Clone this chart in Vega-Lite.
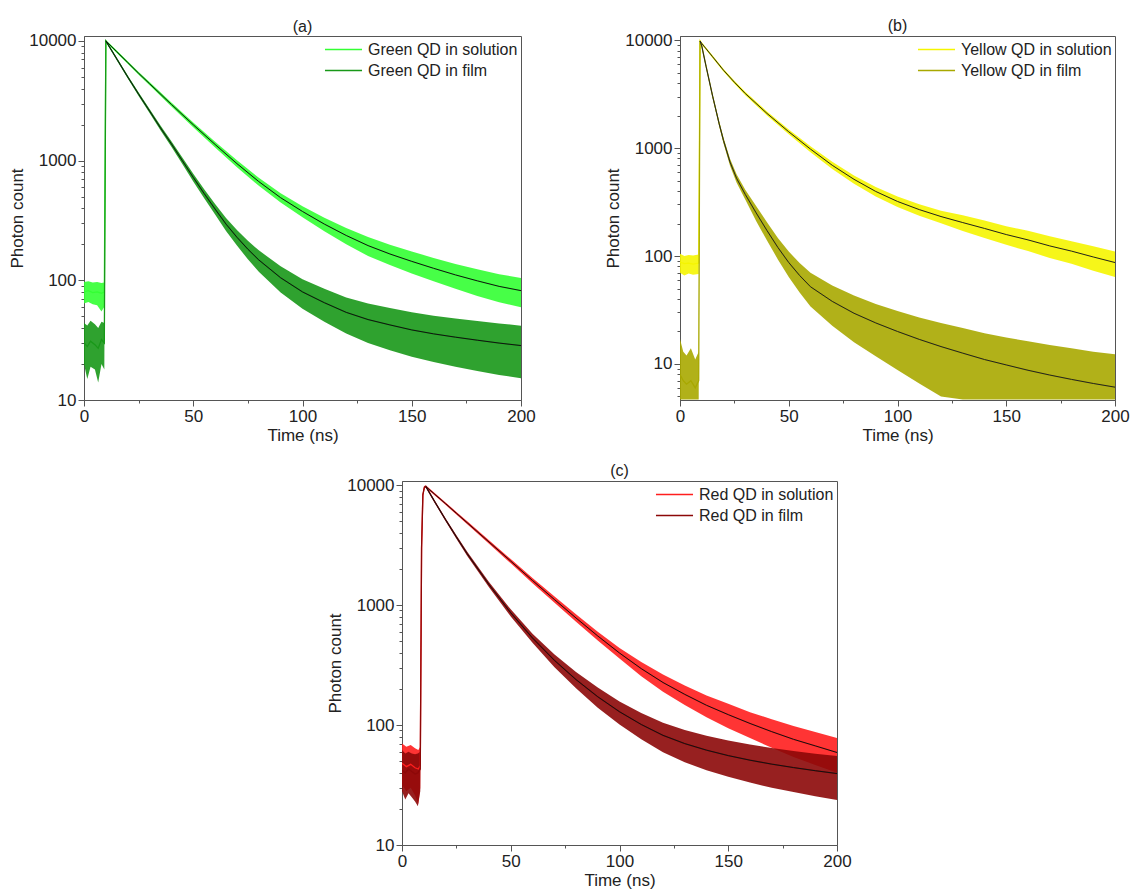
{
  "$schema": "https://vega.github.io/schema/vega-lite/v6.json",
  "padding": {"left": 8, "top": 17, "right": 0, "bottom": 0},
  "background": "white",
  "config": {
    "font": "Liberation Sans",
    "view": {"stroke": "#555", "strokeWidth": 1},
    "axis": {"labelFont": "Liberation Sans", "titleFont": "Liberation Sans", "labelFontSize": 17, "titleFontSize": 17, "titleFontWeight": "normal", "labelColor": "#222", "titleColor": "#222", "domainColor": "#555", "tickColor": "#555", "labelPadding": 2, "titlePadding": 3, "grid": false, "labelOverlap": false, "labelFlush": false},
    "axisY": {"titlePadding": 2},
    "title": {"font": "Liberation Sans", "fontSize": 16, "fontWeight": "normal", "anchor": "middle", "offset": -3, "color": "#222"},
    "legend": {"labelFont": "Liberation Sans", "labelFontSize": 16, "labelColor": "#222", "symbolType": "M-1.9,0H1.9", "symbolSize": 380, "symbolStrokeWidth": 1.5, "orient": "top-right", "offset": 3, "padding": 0, "rowPadding": 2, "labelOffset": 14}
  },
  "datasets": {
    "a": [
      {"s":"Green QD in solution","t":0,"mid":80,"lo":64,"hi":97},
      {"s":"Green QD in solution","t":2,"mid":82,"lo":66,"hi":98},
      {"s":"Green QD in solution","t":4,"mid":79,"lo":63,"hi":96},
      {"s":"Green QD in solution","t":6,"mid":80,"lo":62,"hi":97},
      {"s":"Green QD in solution","t":8,"mid":78,"lo":55,"hi":95},
      {"s":"Green QD in solution","t":9.3,"mid":80,"lo":60,"hi":96},
      {"s":"Green QD in solution","t":10,"mid":10000,"lo":9800,"hi":10200,"fit":10000},
      {"s":"Green QD in solution","t":15,"mid":8130,"lo":7950,"hi":8310,"fit":8130},
      {"s":"Green QD in solution","t":20,"mid":6610,"lo":6450,"hi":6770,"fit":6610},
      {"s":"Green QD in solution","t":25,"mid":5370,"lo":5225,"hi":5515,"fit":5370},
      {"s":"Green QD in solution","t":30,"mid":4395,"lo":4260,"hi":4530,"fit":4395},
      {"s":"Green QD in solution","t":40,"mid":2950,"lo":2840,"hi":3060,"fit":2950},
      {"s":"Green QD in solution","t":50,"mid":1995,"lo":1905,"hi":2085,"fit":1995},
      {"s":"Green QD in solution","t":60,"mid":1365,"lo":1290,"hi":1440,"fit":1365},
      {"s":"Green QD in solution","t":70,"mid":944,"lo":882,"hi":1006,"fit":944},
      {"s":"Green QD in solution","t":80,"mid":668,"lo":616,"hi":720,"fit":668},
      {"s":"Green QD in solution","t":90,"mid":490,"lo":446,"hi":534,"fit":490},
      {"s":"Green QD in solution","t":100,"mid":376,"lo":337,"hi":415,"fit":376},
      {"s":"Green QD in solution","t":110,"mid":295,"lo":257,"hi":333,"fit":295},
      {"s":"Green QD in solution","t":120,"mid":237,"lo":200,"hi":274,"fit":237},
      {"s":"Green QD in solution","t":130,"mid":195,"lo":160,"hi":230,"fit":195},
      {"s":"Green QD in solution","t":140,"mid":166,"lo":134,"hi":198,"fit":166},
      {"s":"Green QD in solution","t":150,"mid":144,"lo":114,"hi":174,"fit":144},
      {"s":"Green QD in solution","t":160,"mid":126,"lo":98,"hi":154,"fit":126},
      {"s":"Green QD in solution","t":170,"mid":111,"lo":85,"hi":137,"fit":111},
      {"s":"Green QD in solution","t":180,"mid":99,"lo":74,"hi":124,"fit":99},
      {"s":"Green QD in solution","t":190,"mid":89,"lo":65.5,"hi":112.5,"fit":89},
      {"s":"Green QD in solution","t":200,"mid":82,"lo":59.5,"hi":104.5,"fit":82},
      {"s":"Green QD in film","t":0,"mid":30,"lo":20,"hi":44},
      {"s":"Green QD in film","t":1.5,"mid":28,"lo":15,"hi":42},
      {"s":"Green QD in film","t":3,"mid":31,"lo":19,"hi":46},
      {"s":"Green QD in film","t":5,"mid":29,"lo":18,"hi":43},
      {"s":"Green QD in film","t":6.5,"mid":27,"lo":14,"hi":40},
      {"s":"Green QD in film","t":8,"mid":32,"lo":20,"hi":45},
      {"s":"Green QD in film","t":9.3,"mid":30,"lo":18,"hi":44},
      {"s":"Green QD in film","t":10,"mid":10000,"lo":9800,"hi":10200,"fit":10000},
      {"s":"Green QD in film","t":15,"mid":7080,"lo":6910,"hi":7250,"fit":7080},
      {"s":"Green QD in film","t":20,"mid":5010,"lo":4870,"hi":5150,"fit":5010},
      {"s":"Green QD in film","t":25,"mid":3590,"lo":3470,"hi":3710,"fit":3590},
      {"s":"Green QD in film","t":30,"mid":2600,"lo":2500,"hi":2700,"fit":2600},
      {"s":"Green QD in film","t":35,"mid":1880,"lo":1793,"hi":1967,"fit":1880},
      {"s":"Green QD in film","t":40,"mid":1380,"lo":1305,"hi":1455,"fit":1380},
      {"s":"Green QD in film","t":45,"mid":1000,"lo":937,"hi":1063,"fit":1000},
      {"s":"Green QD in film","t":50,"mid":724,"lo":670,"hi":778,"fit":724},
      {"s":"Green QD in film","t":55,"mid":531,"lo":485,"hi":577,"fit":531},
      {"s":"Green QD in film","t":60,"mid":394,"lo":354,"hi":434,"fit":394},
      {"s":"Green QD in film","t":65,"mid":295,"lo":258,"hi":332,"fit":295},
      {"s":"Green QD in film","t":70,"mid":229,"lo":195,"hi":263,"fit":229},
      {"s":"Green QD in film","t":75,"mid":182,"lo":150,"hi":214,"fit":182},
      {"s":"Green QD in film","t":80,"mid":148,"lo":118,"hi":178,"fit":148},
      {"s":"Green QD in film","t":90,"mid":105,"lo":79,"hi":131,"fit":105},
      {"s":"Green QD in film","t":100,"mid":80,"lo":58,"hi":102,"fit":80},
      {"s":"Green QD in film","t":110,"mid":65,"lo":45,"hi":85,"fit":65},
      {"s":"Green QD in film","t":120,"mid":54,"lo":36,"hi":72,"fit":54},
      {"s":"Green QD in film","t":130,"mid":47,"lo":30,"hi":64,"fit":47},
      {"s":"Green QD in film","t":140,"mid":42.4,"lo":26,"hi":58.8,"fit":42.4},
      {"s":"Green QD in film","t":150,"mid":38.5,"lo":23,"hi":54,"fit":38.5},
      {"s":"Green QD in film","t":160,"mid":35.7,"lo":20.8,"hi":50.6,"fit":35.7},
      {"s":"Green QD in film","t":170,"mid":33.5,"lo":19,"hi":48,"fit":33.5},
      {"s":"Green QD in film","t":180,"mid":31.6,"lo":17.5,"hi":45.7,"fit":31.6},
      {"s":"Green QD in film","t":190,"mid":29.9,"lo":16.2,"hi":43.6,"fit":29.9},
      {"s":"Green QD in film","t":200,"mid":28.5,"lo":15.2,"hi":41.8,"fit":28.5}
    ],
    "b": [
      {"s":"Yellow QD in solution","t":0,"mid":88,"lo":70,"hi":105},
      {"s":"Yellow QD in solution","t":2,"mid":85,"lo":66,"hi":100},
      {"s":"Yellow QD in solution","t":4,"mid":86,"lo":69,"hi":102},
      {"s":"Yellow QD in solution","t":6,"mid":84,"lo":67,"hi":101},
      {"s":"Yellow QD in solution","t":8.6,"mid":86,"lo":68,"hi":103},
      {"s":"Yellow QD in solution","t":9.2,"mid":9800,"lo":9600,"hi":10000,"fit":9800},
      {"s":"Yellow QD in solution","t":10,"mid":9300,"lo":9110,"hi":9490,"fit":9300},
      {"s":"Yellow QD in solution","t":15,"mid":7000,"lo":6830,"hi":7170,"fit":7000},
      {"s":"Yellow QD in solution","t":20,"mid":5250,"lo":5105,"hi":5395,"fit":5250},
      {"s":"Yellow QD in solution","t":25,"mid":4070,"lo":3942,"hi":4198,"fit":4070},
      {"s":"Yellow QD in solution","t":30,"mid":3200,"lo":3087,"hi":3313,"fit":3200},
      {"s":"Yellow QD in solution","t":40,"mid":2090,"lo":1999,"hi":2181,"fit":2090},
      {"s":"Yellow QD in solution","t":50,"mid":1413,"lo":1338,"hi":1488,"fit":1413},
      {"s":"Yellow QD in solution","t":60,"mid":977,"lo":915,"hi":1039,"fit":977},
      {"s":"Yellow QD in solution","t":70,"mid":692,"lo":639,"hi":745,"fit":692},
      {"s":"Yellow QD in solution","t":80,"mid":513,"lo":468,"hi":558,"fit":513},
      {"s":"Yellow QD in solution","t":90,"mid":396,"lo":356,"hi":436,"fit":396},
      {"s":"Yellow QD in solution","t":100,"mid":320,"lo":284,"hi":356,"fit":320},
      {"s":"Yellow QD in solution","t":110,"mid":269,"lo":236,"hi":302,"fit":269},
      {"s":"Yellow QD in solution","t":120,"mid":232,"lo":201,"hi":263,"fit":232},
      {"s":"Yellow QD in solution","t":130,"mid":204,"lo":170,"hi":238,"fit":204},
      {"s":"Yellow QD in solution","t":140,"mid":180,"lo":147,"hi":213,"fit":180},
      {"s":"Yellow QD in solution","t":150,"mid":158,"lo":127,"hi":189,"fit":158},
      {"s":"Yellow QD in solution","t":160,"mid":141,"lo":111,"hi":171,"fit":141},
      {"s":"Yellow QD in solution","t":170,"mid":124,"lo":96,"hi":152,"fit":124},
      {"s":"Yellow QD in solution","t":180,"mid":111,"lo":85,"hi":137,"fit":111},
      {"s":"Yellow QD in solution","t":190,"mid":98,"lo":73,"hi":123,"fit":98},
      {"s":"Yellow QD in solution","t":200,"mid":87,"lo":64,"hi":110,"fit":87},
      {"s":"Yellow QD in film","t":0,"mid":8,"lo":4.7,"hi":17},
      {"s":"Yellow QD in film","t":1.5,"mid":7,"lo":4.7,"hi":13},
      {"s":"Yellow QD in film","t":3,"mid":6.5,"lo":4.7,"hi":12},
      {"s":"Yellow QD in film","t":5,"mid":7,"lo":4.7,"hi":14},
      {"s":"Yellow QD in film","t":7,"mid":6,"lo":4.7,"hi":11},
      {"s":"Yellow QD in film","t":8.6,"mid":7,"lo":4.7,"hi":13},
      {"s":"Yellow QD in film","t":9.2,"mid":9800,"lo":9600,"hi":10000,"fit":9800},
      {"s":"Yellow QD in film","t":10,"mid":8810,"lo":8620,"hi":9000,"fit":8810},
      {"s":"Yellow QD in film","t":12,"mid":5690,"lo":5540,"hi":5840,"fit":5690},
      {"s":"Yellow QD in film","t":15,"mid":3020,"lo":2910,"hi":3130,"fit":3020},
      {"s":"Yellow QD in film","t":18,"mid":1680,"lo":1598,"hi":1762,"fit":1680},
      {"s":"Yellow QD in film","t":20,"mid":1175,"lo":1106,"hi":1244,"fit":1175},
      {"s":"Yellow QD in film","t":23,"mid":741,"lo":687,"hi":795,"fit":741},
      {"s":"Yellow QD in film","t":26,"mid":525,"lo":479,"hi":571,"fit":525},
      {"s":"Yellow QD in film","t":30,"mid":372,"lo":333,"hi":411,"fit":372},
      {"s":"Yellow QD in film","t":35,"mid":251,"lo":211,"hi":291,"fit":251},
      {"s":"Yellow QD in film","t":40,"mid":172,"lo":139,"hi":205,"fit":172},
      {"s":"Yellow QD in film","t":45,"mid":120,"lo":93,"hi":147,"fit":120},
      {"s":"Yellow QD in film","t":50,"mid":87,"lo":64,"hi":110,"fit":87},
      {"s":"Yellow QD in film","t":55,"mid":66,"lo":46,"hi":86,"fit":66},
      {"s":"Yellow QD in film","t":60,"mid":51.9,"lo":34,"hi":70,"fit":51.9},
      {"s":"Yellow QD in film","t":70,"mid":38,"lo":22.6,"hi":53.4,"fit":38},
      {"s":"Yellow QD in film","t":80,"mid":29.5,"lo":15.9,"hi":43,"fit":29.5},
      {"s":"Yellow QD in film","t":90,"mid":24,"lo":11.8,"hi":36,"fit":24},
      {"s":"Yellow QD in film","t":100,"mid":20,"lo":8.8,"hi":31,"fit":20},
      {"s":"Yellow QD in film","t":110,"mid":16.9,"lo":6.6,"hi":27,"fit":16.9},
      {"s":"Yellow QD in film","t":120,"mid":14.5,"lo":5,"hi":24,"fit":14.5},
      {"s":"Yellow QD in film","t":130,"mid":12.6,"lo":4.7,"hi":21.5,"fit":12.6},
      {"s":"Yellow QD in film","t":140,"mid":11,"lo":4.7,"hi":19.3,"fit":11},
      {"s":"Yellow QD in film","t":150,"mid":9.8,"lo":4.7,"hi":17.6,"fit":9.8},
      {"s":"Yellow QD in film","t":160,"mid":8.75,"lo":4.7,"hi":16.2,"fit":8.75},
      {"s":"Yellow QD in film","t":170,"mid":7.9,"lo":4.7,"hi":15,"fit":7.9},
      {"s":"Yellow QD in film","t":180,"mid":7.2,"lo":4.7,"hi":14,"fit":7.2},
      {"s":"Yellow QD in film","t":190,"mid":6.6,"lo":4.7,"hi":13,"fit":6.6},
      {"s":"Yellow QD in film","t":200,"mid":6.1,"lo":4.7,"hi":12.3,"fit":6.1}
    ],
    "c": [
      {"s":"Red QD in solution","t":0,"mid":48,"lo":32,"hi":70},
      {"s":"Red QD in solution","t":2,"mid":45,"lo":28,"hi":66},
      {"s":"Red QD in solution","t":4,"mid":47,"lo":30,"hi":68},
      {"s":"Red QD in solution","t":6,"mid":44,"lo":26,"hi":64},
      {"s":"Red QD in solution","t":7.5,"mid":43,"lo":22,"hi":62},
      {"s":"Red QD in solution","t":8.4,"mid":46,"lo":30,"hi":66},
      {"s":"Red QD in solution","t":9,"mid":3000,"lo":2900,"hi":3100},
      {"s":"Red QD in solution","t":9.6,"mid":8300,"lo":8120,"hi":8480},
      {"s":"Red QD in solution","t":10.3,"mid":9600,"lo":9400,"hi":9800},
      {"s":"Red QD in solution","t":11,"mid":9700,"lo":9500,"hi":9900,"fit":9700},
      {"s":"Red QD in solution","t":15,"mid":8390,"lo":8210,"hi":8570,"fit":8390},
      {"s":"Red QD in solution","t":20,"mid":7000,"lo":6835,"hi":7165,"fit":7000},
      {"s":"Red QD in solution","t":25,"mid":5820,"lo":5670,"hi":5970,"fit":5820},
      {"s":"Red QD in solution","t":30,"mid":4840,"lo":4700,"hi":4980,"fit":4840},
      {"s":"Red QD in solution","t":40,"mid":3350,"lo":3235,"hi":3465,"fit":3350},
      {"s":"Red QD in solution","t":50,"mid":2320,"lo":2224,"hi":2416,"fit":2320},
      {"s":"Red QD in solution","t":60,"mid":1600,"lo":1520,"hi":1680,"fit":1600},
      {"s":"Red QD in solution","t":70,"mid":1114,"lo":1047,"hi":1181,"fit":1114},
      {"s":"Red QD in solution","t":80,"mid":780,"lo":724,"hi":836,"fit":780},
      {"s":"Red QD in solution","t":90,"mid":552,"lo":505,"hi":599,"fit":552},
      {"s":"Red QD in solution","t":100,"mid":398,"lo":358,"hi":438,"fit":398},
      {"s":"Red QD in solution","t":110,"mid":295,"lo":255,"hi":335,"fit":295},
      {"s":"Red QD in solution","t":120,"mid":226,"lo":189,"hi":263,"fit":226},
      {"s":"Red QD in solution","t":130,"mid":180,"lo":147,"hi":213,"fit":180},
      {"s":"Red QD in solution","t":140,"mid":146,"lo":116,"hi":176,"fit":146},
      {"s":"Red QD in solution","t":150,"mid":122,"lo":94,"hi":150,"fit":122},
      {"s":"Red QD in solution","t":160,"mid":103,"lo":78,"hi":128,"fit":103},
      {"s":"Red QD in solution","t":170,"mid":88,"lo":64.5,"hi":111.5,"fit":88},
      {"s":"Red QD in solution","t":180,"mid":76,"lo":54,"hi":98,"fit":76},
      {"s":"Red QD in solution","t":190,"mid":67,"lo":46.5,"hi":87.5,"fit":67},
      {"s":"Red QD in solution","t":200,"mid":59,"lo":40,"hi":78,"fit":59},
      {"s":"Red QD in film","t":0,"mid":42,"lo":28,"hi":62},
      {"s":"Red QD in film","t":1.5,"mid":40,"lo":24,"hi":58},
      {"s":"Red QD in film","t":3,"mid":43,"lo":27,"hi":60},
      {"s":"Red QD in film","t":4.5,"mid":41,"lo":25,"hi":58},
      {"s":"Red QD in film","t":6,"mid":39,"lo":23,"hi":57},
      {"s":"Red QD in film","t":7.3,"mid":40,"lo":21,"hi":58},
      {"s":"Red QD in film","t":8.4,"mid":43,"lo":28,"hi":60},
      {"s":"Red QD in film","t":9,"mid":3000,"lo":2900,"hi":3100},
      {"s":"Red QD in film","t":9.6,"mid":8300,"lo":8120,"hi":8480},
      {"s":"Red QD in film","t":10.3,"mid":9600,"lo":9400,"hi":9800},
      {"s":"Red QD in film","t":11,"mid":9700,"lo":9500,"hi":9900,"fit":9700},
      {"s":"Red QD in film","t":15,"mid":7280,"lo":7110,"hi":7450,"fit":7280},
      {"s":"Red QD in film","t":20,"mid":5150,"lo":5005,"hi":5295,"fit":5150},
      {"s":"Red QD in film","t":25,"mid":3690,"lo":3568,"hi":3812,"fit":3690},
      {"s":"Red QD in film","t":30,"mid":2670,"lo":2567,"hi":2773,"fit":2670},
      {"s":"Red QD in film","t":40,"mid":1480,"lo":1403,"hi":1557,"fit":1480},
      {"s":"Red QD in film","t":50,"mid":861,"lo":802,"hi":920,"fit":861},
      {"s":"Red QD in film","t":60,"mid":531,"lo":485,"hi":577,"fit":531},
      {"s":"Red QD in film","t":70,"mid":347,"lo":305,"hi":389,"fit":347},
      {"s":"Red QD in film","t":80,"mid":239,"lo":202,"hi":276,"fit":239},
      {"s":"Red QD in film","t":90,"mid":172,"lo":139,"hi":205,"fit":172},
      {"s":"Red QD in film","t":100,"mid":129,"lo":101,"hi":157,"fit":129},
      {"s":"Red QD in film","t":110,"mid":101,"lo":76,"hi":126,"fit":101},
      {"s":"Red QD in film","t":120,"mid":82,"lo":59.4,"hi":104.6,"fit":82},
      {"s":"Red QD in film","t":130,"mid":70,"lo":49,"hi":91,"fit":70},
      {"s":"Red QD in film","t":140,"mid":61.7,"lo":42,"hi":81.3,"fit":61.7},
      {"s":"Red QD in film","t":150,"mid":55.6,"lo":37,"hi":74.2,"fit":55.6},
      {"s":"Red QD in film","t":160,"mid":50.9,"lo":33.1,"hi":68.7,"fit":50.9},
      {"s":"Red QD in film","t":170,"mid":47.2,"lo":30,"hi":64.4,"fit":47.2},
      {"s":"Red QD in film","t":180,"mid":44.2,"lo":27.6,"hi":60.8,"fit":44.2},
      {"s":"Red QD in film","t":190,"mid":41.6,"lo":25.5,"hi":57.7,"fit":41.6},
      {"s":"Red QD in film","t":200,"mid":39.4,"lo":23.7,"hi":55.1,"fit":39.4}
    ]
  },
  "resolve": {"scale": {"stroke": "independent", "y": "independent", "x": "independent"}, "legend": {"stroke": "independent"}},
  "spacing": 18,
  "vconcat": [
    {
      "hconcat": [
        {
          "width": 437, "height": 364,
          "title": {"text": "(a)"},
          "data": {"name": "a"},
          "encoding": {"x": {"field": "t", "type": "quantitative", "scale": {"domain": [0, 200], "nice": false}, "axis": {"title": "Time (ns)", "values": [0,25,50,75,100,125,150,175,200], "labelExpr": "datum.value % 50 == 0 ? datum.label : ''", "tickSize": {"condition": {"test": "datum.value % 50 == 0", "value": 6}, "value": 3}}}},
          "layer": [
            {"transform": [{"filter": "datum.s == 'Green QD in solution'"}], "mark": {"type": "area", "clip": true, "color": "#33ff33", "opacity": 0.9}, "encoding": {"y": {"field": "lo", "type": "quantitative", "title": "Photon count", "scale": {"type": "log", "domain": [10, 11000], "nice": false}, "axis": {"values": [10,20,30,40,50,60,70,80,90,100,200,300,400,500,600,700,800,900,1000,2000,3000,4000,5000,6000,7000,8000,9000,10000], "labelExpr": "(datum.value==10||datum.value==100||datum.value==1000||datum.value==10000) ? format(datum.value,'d') : ''", "tickSize": {"condition": {"test": "datum.value==10||datum.value==100||datum.value==1000||datum.value==10000", "value": 6}, "value": 3}}}, "y2": {"field": "hi"}}},
            {"transform": [{"filter": "datum.s == 'Green QD in film'"}], "mark": {"type": "area", "clip": true, "color": "#189818", "opacity": 0.9}, "encoding": {"y": {"field": "lo", "type": "quantitative", "title": "Photon count"}, "y2": {"field": "hi"}}},
            {"mark": {"type": "line", "clip": true, "strokeWidth": 1.3}, "encoding": {"y": {"field": "mid", "type": "quantitative", "title": "Photon count"}, "stroke": {"field": "s", "type": "nominal", "sort": null, "scale": {"domain": ["Green QD in solution", "Green QD in film"], "range": ["#33ff33", "#189818"]}, "legend": {"title": null}}}},
            {"mark": {"type": "line", "clip": true, "color": "#111", "strokeWidth": 1}, "encoding": {"y": {"field": "fit", "type": "quantitative", "title": "Photon count"}, "detail": {"field": "s"}}}
          ]
        },
        {
          "width": 435, "height": 364,
          "title": {"text": "(b)"},
          "data": {"name": "b"},
          "encoding": {"x": {"field": "t", "type": "quantitative", "scale": {"domain": [0, 200], "nice": false}, "axis": {"title": "Time (ns)", "values": [0,25,50,75,100,125,150,175,200], "labelExpr": "datum.value % 50 == 0 ? datum.label : ''", "tickSize": {"condition": {"test": "datum.value % 50 == 0", "value": 6}, "value": 3}}}},
          "layer": [
            {"transform": [{"filter": "datum.s == 'Yellow QD in solution'"}], "mark": {"type": "area", "clip": true, "color": "#f5f500", "opacity": 0.9}, "encoding": {"y": {"field": "lo", "type": "quantitative", "title": "Photon count", "scale": {"type": "log", "domain": [4.64, 10900], "nice": false}, "axis": {"values": [5,6,7,8,9,10,20,30,40,50,60,70,80,90,100,200,300,400,500,600,700,800,900,1000,2000,3000,4000,5000,6000,7000,8000,9000,10000], "labelExpr": "(datum.value==10||datum.value==100||datum.value==1000||datum.value==10000) ? format(datum.value,'d') : ''", "tickSize": {"condition": {"test": "datum.value==10||datum.value==100||datum.value==1000||datum.value==10000", "value": 6}, "value": 3}}}, "y2": {"field": "hi"}}},
            {"transform": [{"filter": "datum.s == 'Yellow QD in film'"}], "mark": {"type": "area", "clip": true, "color": "#a8a800", "opacity": 0.9}, "encoding": {"y": {"field": "lo", "type": "quantitative", "title": "Photon count"}, "y2": {"field": "hi"}}},
            {"mark": {"type": "line", "clip": true, "strokeWidth": 1.3}, "encoding": {"y": {"field": "mid", "type": "quantitative", "title": "Photon count"}, "stroke": {"field": "s", "type": "nominal", "sort": null, "scale": {"domain": ["Yellow QD in solution", "Yellow QD in film"], "range": ["#f5f500", "#a8a800"]}, "legend": {"title": null}}}},
            {"mark": {"type": "line", "clip": true, "color": "#222", "strokeWidth": 1}, "encoding": {"y": {"field": "fit", "type": "quantitative", "title": "Photon count"}, "detail": {"field": "s"}}}
          ]
        }
      ],
      "spacing": 68,
      "resolve": {"scale": {"stroke": "independent", "y": "independent", "x": "independent"}, "legend": {"stroke": "independent"}}
    },
    {
      "hconcat": [
        {"width": 242, "height": 10, "view": {"stroke": null}, "data": {"values": [{}]}, "mark": {"type": "text", "text": ""}},
        {
          "width": 435, "height": 364,
          "title": {"text": "(c)"},
          "data": {"name": "c"},
          "encoding": {"x": {"field": "t", "type": "quantitative", "scale": {"domain": [0, 200], "nice": false}, "axis": {"title": "Time (ns)", "values": [0,25,50,75,100,125,150,175,200], "labelExpr": "datum.value % 50 == 0 ? datum.label : ''", "tickSize": {"condition": {"test": "datum.value % 50 == 0", "value": 6}, "value": 3}}}},
          "layer": [
            {"transform": [{"filter": "datum.s == 'Red QD in solution'"}], "mark": {"type": "area", "clip": true, "color": "#ff1e1e", "opacity": 0.9}, "encoding": {"y": {"field": "lo", "type": "quantitative", "title": "Photon count", "scale": {"type": "log", "domain": [10, 10800], "nice": false}, "axis": {"values": [10,20,30,40,50,60,70,80,90,100,200,300,400,500,600,700,800,900,1000,2000,3000,4000,5000,6000,7000,8000,9000,10000], "labelExpr": "(datum.value==10||datum.value==100||datum.value==1000||datum.value==10000) ? format(datum.value,'d') : ''", "tickSize": {"condition": {"test": "datum.value==10||datum.value==100||datum.value==1000||datum.value==10000", "value": 6}, "value": 3}}}, "y2": {"field": "hi"}}},
            {"transform": [{"filter": "datum.s == 'Red QD in film'"}], "mark": {"type": "area", "clip": true, "color": "#8c0808", "opacity": 0.9}, "encoding": {"y": {"field": "lo", "type": "quantitative", "title": "Photon count"}, "y2": {"field": "hi"}}},
            {"mark": {"type": "line", "clip": true, "strokeWidth": 1.3}, "encoding": {"y": {"field": "mid", "type": "quantitative", "title": "Photon count"}, "stroke": {"field": "s", "type": "nominal", "sort": null, "scale": {"domain": ["Red QD in solution", "Red QD in film"], "range": ["#ff1e1e", "#8c0808"]}, "legend": {"title": null}}}},
            {"mark": {"type": "line", "clip": true, "color": "#111", "strokeWidth": 1}, "encoding": {"y": {"field": "fit", "type": "quantitative", "title": "Photon count"}, "detail": {"field": "s"}}}
          ]
        }
      ],
      "spacing": 0,
      "resolve": {"scale": {"stroke": "independent", "y": "independent", "x": "independent"}, "legend": {"stroke": "independent"}}
    }
  ]
}
